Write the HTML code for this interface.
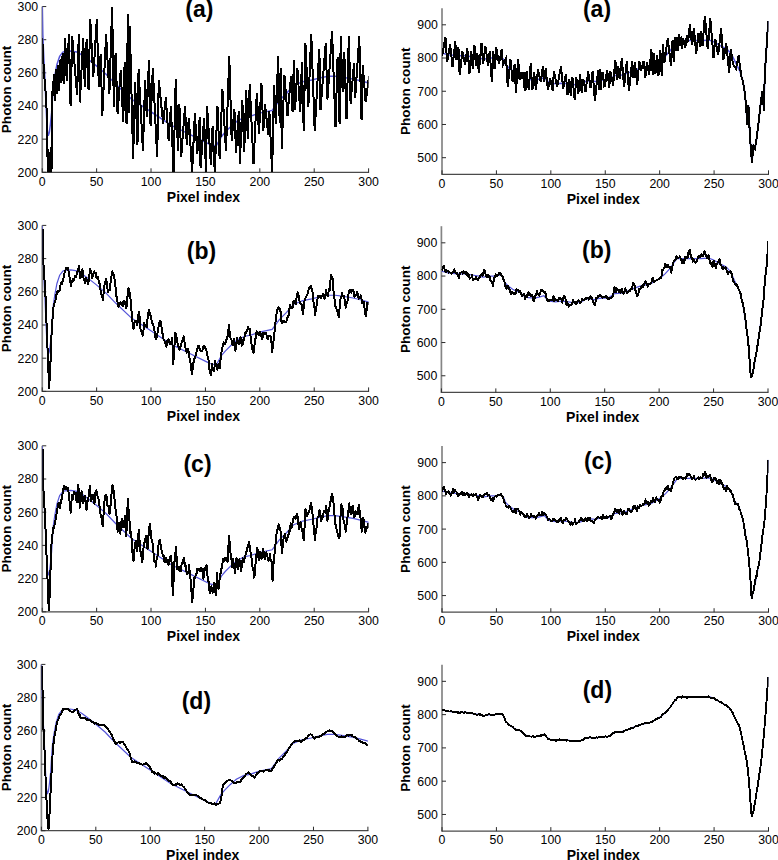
<!DOCTYPE html>
<html><head><meta charset="utf-8"><style>
html,body{margin:0;padding:0;background:#fff;overflow:hidden;}
svg{display:block;}
text{font-family:"Liberation Sans", sans-serif;fill:#000;}
</style></head><body>
<svg width="778" height="860" viewBox="0 0 778 860">
<rect width="778" height="860" fill="#fff"/>
<path d="M42.25 6.55V172.9" fill="none" stroke="#858585" stroke-width="1.7"/>
<path d="M42.05 172.3H369.1" fill="none" stroke="#4a4a4a" stroke-width="1.3"/>
<path d="M42.25 172.3v-4M96.64 172.3v-4M151.03 172.3v-4M205.43 172.3v-4M259.82 172.3v-4M314.21 172.3v-4M368.6 172.3v-4M42.25 172.3h4M42.25 139.15h4M42.25 106h4M42.25 72.85h4M42.25 39.7h4M42.25 6.55h4" stroke="#2b2b2b" stroke-width="1"/>
<g font-size="12.3"><text x="42.25" y="185.5" text-anchor="middle">0</text><text x="96.64" y="185.5" text-anchor="middle">50</text><text x="151.03" y="185.5" text-anchor="middle">100</text><text x="205.43" y="185.5" text-anchor="middle">150</text><text x="259.82" y="185.5" text-anchor="middle">200</text><text x="314.21" y="185.5" text-anchor="middle">250</text><text x="368.6" y="185.5" text-anchor="middle">300</text><text x="38.15" y="176.7" text-anchor="end">200</text><text x="38.15" y="143.55" text-anchor="end">220</text><text x="38.15" y="110.4" text-anchor="end">240</text><text x="38.15" y="77.25" text-anchor="end">260</text><text x="38.15" y="44.1" text-anchor="end">280</text><text x="38.15" y="10.95" text-anchor="end">300</text></g>
<text x="203.43" y="201.5" text-anchor="middle" font-weight="bold" font-size="14">Pixel index</text>
<text transform="translate(11.2,89.43) rotate(-90)" text-anchor="middle" font-weight="bold" font-size="13.6">Photon count</text>
<text x="199.3" y="17.1" text-anchor="middle" font-weight="bold" font-size="23">(a)</text>
<clipPath id="cLA"><rect x="42.25" y="6.55" width="326.35" height="165.75"/></clipPath>
<g clip-path="url(#cLA)">
<path d="M42.25 6.55 42.79 34.73 43.88 59.59 44.97 79.48 46.06 106 47.15 129.21 48.23 135.84 49.32 132.52 50.41 124.23 51.61 112.63 52.37 99.37 53.35 86.11 54.76 76.17 56.94 64.56 59.66 56.28 62.92 52.13 64.84 51.5 70.84 51 76.83 52 82.83 55.49 88.83 59.97 95.83 65.45 105.82 73.93 115.62 84.09 131.81 99.34 149.8 111 171.39 125.36 190.78 134.92 206.17 142.6 210.07 144.49 216.17 145.99 221.57 136.42 225.47 131.83 230.86 126.45 237.06 121.07 244.76 117.18 250.75 116.09 259.55 113.1 272.14 110.41 279.34 100.54 286.54 93.36 293.73 85.29 302.73 81.7 311.73 79.91 320.72 77.71 327.92 76.32 335.12 76.32 342.31 77.22 353.11 79.01 360.3 80.8 368.9 83.1" fill="none" stroke="#5454d8" stroke-width="1.5"/>
<path d="M42.25 38.04 43.01 56.28 43.88 69.54 44.64 81.14 45.51 91.08 46.38 101.03 46.93 129.21 47.47 154.07 47.91 188.88 48.34 149.1 48.78 197.16 49.21 152.41 49.65 192.19 50.08 155.73 50.52 197.16 50.95 147.44 51.39 188.88 51.82 122.58 52.26 106 52.69 81.14 53.45 96.06 54.22 74.51 54.87 101.03 55.85 69.54 56.94 94.4 57.91 64.56 58.89 91.08 59.87 59.59 60.74 82.8 61.61 56.28 62.48 81.14 63.25 52.96 64.01 84.45 65.13 37.69 66.71 81.24 68.94 33.81 70.59 106.3 72.23 36.05 77.15 95.38 78.79 34.41 79.88 102.48 83.16 37.69 84.79 87.19 86.61 38.99 88.53 89.65 90.26 19.12 93.27 77.31 96.81 19.12 98.85 87.41 100.62 53.84 102.27 116.14 106.1 34.41 109.38 93.74 112.11 6.56 113.89 107.05 115.57 52.56 117.57 113.95 120.69 70.41 123.28 122.15 124.61 62.32 126.56 123.79 127.87 14.2 129.14 112.89 129.83 26.22 133.11 158.75 135.11 81.91 137.48 145.09 138.57 69.38 142.94 150.55 145.13 80.3 146.77 116.68 148.95 59.54 150.56 125.96 152.78 67.74 157.15 157.11 158.79 80.3 163.16 123.79 165.85 97.36 168.62 140.72 170.9 105.79 173.53 172.4 175.72 79.21 177.9 150.55 179.36 103.94 181.18 157.11 185.01 106.3 186.78 145.09 188.83 117.78 192.11 172.4 194.88 113.52 197.3 154.03 199.76 116.68 200.55 168.03 204.13 117.78 205.93 171.88 207.1 106.3 210.93 165.3 212.59 126.32 214.75 172.4 217.48 106.3 219.67 159.29 222.4 89.37 225.98 151.32 229.28 56.27 231.68 140.72 234.41 109.04 236.05 153.28 238.79 110.67 239.88 164.21 242.35 100.38 244.25 151.64 246.28 90.4 247.76 139.25 249.71 84.13 253.53 164.21 256.81 92.65 259 133.62 261.43 83.35 263.37 130.89 265.01 104.12 268.28 135.26 269.38 111.22 272.11 172.4 274.11 85.04 275.81 124.34 278.12 56.27 279.68 122.85 280.85 68.28 281.74 149.21 284.41 74.77 287.52 115.66 290.99 76.35 292.57 111.97 293.88 59.58 295.04 110.45 297.35 67.68 300.25 112.19 301.9 61.85 303.72 131.27 305.45 43.38 308.35 106.9 311.24 33.55 314.71 131.27 319.33 48.59 320.49 110.45 325.7 43.38 327.43 99.46 332.06 31.24 335.53 127.23 337.57 57.29 339.58 124.33 340.74 36.44 342.66 92.06 344.29 52.22 346.52 119.13 348.83 36.44 350.57 103.51 354.04 63.05 355.2 97.73 359.25 36.44 361.56 120.28 362.72 64.78 365.61 102.35 369.08 76.35 368.6 87.28" fill="none" stroke="#000" stroke-width="2.0" stroke-linejoin="miter" shape-rendering="crispEdges"/>
</g>
<path d="M42.25 225.4V392" fill="none" stroke="#858585" stroke-width="1.7"/>
<path d="M42.05 391.4H369.1" fill="none" stroke="#4a4a4a" stroke-width="1.3"/>
<path d="M42.25 391.4v-4M96.64 391.4v-4M151.03 391.4v-4M205.43 391.4v-4M259.82 391.4v-4M314.21 391.4v-4M368.6 391.4v-4M42.25 391.4h4M42.25 358.2h4M42.25 325h4M42.25 291.8h4M42.25 258.6h4M42.25 225.4h4" stroke="#2b2b2b" stroke-width="1"/>
<g font-size="12.3"><text x="42.25" y="404.6" text-anchor="middle">0</text><text x="96.64" y="404.6" text-anchor="middle">50</text><text x="151.03" y="404.6" text-anchor="middle">100</text><text x="205.43" y="404.6" text-anchor="middle">150</text><text x="259.82" y="404.6" text-anchor="middle">200</text><text x="314.21" y="404.6" text-anchor="middle">250</text><text x="368.6" y="404.6" text-anchor="middle">300</text><text x="38.15" y="395.8" text-anchor="end">200</text><text x="38.15" y="362.6" text-anchor="end">220</text><text x="38.15" y="329.4" text-anchor="end">240</text><text x="38.15" y="296.2" text-anchor="end">260</text><text x="38.15" y="263" text-anchor="end">280</text><text x="38.15" y="229.8" text-anchor="end">300</text></g>
<text x="203.43" y="420.6" text-anchor="middle" font-weight="bold" font-size="14">Pixel index</text>
<text transform="translate(11.2,308.4) rotate(-90)" text-anchor="middle" font-weight="bold" font-size="13.6">Photon count</text>
<text x="201.5" y="258.9" text-anchor="middle" font-weight="bold" font-size="23">(b)</text>
<clipPath id="cLB"><rect x="42.25" y="225.4" width="326.35" height="166"/></clipPath>
<g clip-path="url(#cLB)">
<path d="M42.25 225.4 42.79 253.62 43.88 278.52 44.97 298.44 46.06 325 47.15 348.24 48.23 354.88 49.32 351.56 50.41 343.26 51.61 331.64 52.37 318.36 53.35 305.08 54.76 295.12 56.94 283.5 59.66 275.2 62.92 271.05 64.84 270.42 70.84 269.92 76.83 270.92 82.83 274.41 88.83 278.9 95.83 284.39 105.82 292.88 115.62 303.06 131.81 318.33 149.8 330.01 171.39 344.38 190.78 353.97 206.17 361.65 210.07 363.55 216.17 365.05 221.57 355.46 225.47 350.87 230.86 345.48 237.06 340.09 244.76 336.2 250.75 335.1 259.55 332.11 272.14 329.41 279.34 319.53 286.54 312.34 293.73 304.26 302.73 300.66 311.73 298.87 320.72 296.67 327.92 295.27 335.12 295.27 342.31 296.17 353.11 297.97 360.3 299.77 368.9 302.06" fill="none" stroke="#5454d8" stroke-width="1.2"/>
<path d="M42.62 228.74 43.28 259.34 43.34 261.98 44.43 278.35 45.46 296.49 45.51 296.42 46.6 325.62 47.65 351.12 47.69 353.87 48.78 378.61 49.18 388.27 49.86 373.9 50.49 362.05 50.95 348.68 52.02 322.71 52.04 324.1 53.13 312.54 53.55 306.32 54.22 303.71 55.3 301.95 55.3 301.29 56.39 294.99 57.48 290.82 57.48 292.12 58.57 291.17 59.66 290.31 59.67 289.93 60.74 283.29 61.83 283.82 61.85 283.37 62.92 280.15 64.01 276.27 64.04 274.63 65.09 271.34 66.18 268.01 66.22 268.08 67.27 268.27 67.97 267.64 68.36 270.04 69.45 276.12 69.5 276.82 70.53 282.53 71.03 286.65 71.62 282.61 72.71 279.03 72.78 279 73.8 280.57 74.88 276.39 74.97 277.26 75.97 276.92 77.06 272.87 77.15 272.45 78.15 270.41 78.9 265.45 79.24 268.2 80.32 278.1 80.43 277.91 81.41 275.66 82.5 269.39 82.61 273.54 83.59 277.99 84.68 281.7 84.8 283.37 85.76 281.69 86.33 277.91 86.85 280.25 87.94 283.07 88.08 284.47 89.03 277.94 90.11 269.71 90.26 269.17 91.2 272.51 92.29 278.01 92.45 277.26 93.38 273.37 94.2 271.35 94.47 273.16 95.55 272.54 96.38 277.26 96.64 278.04 97.73 276.92 97.91 277.91 98.82 281.15 99.44 283.37 99.91 285.01 100.99 293.88 101.19 294.3 102.08 295.76 102.94 299.76 103.17 297.78 104.26 285.83 104.47 285.56 105.34 281.44 106.22 279 106.43 280.26 107.52 288.74 108.18 292.12 108.61 290.56 109.7 289.6 109.93 289.93 110.78 280.5 111.87 273.93 112.12 271.35 112.96 272.73 114.05 275.51 114.3 276.82 115.13 283.95 116.22 293.84 116.49 296.49 117.31 300.88 118.23 306.32 118.4 306.79 119.49 305.16 120.42 301.95 120.57 302.78 121.66 303.65 122.6 306.32 122.75 303.8 123.84 300.62 124.13 300.86 124.93 302.23 126.01 306.4 126.32 308.51 127.1 300.16 128.19 290.51 128.51 287.74 129.28 291.35 130.36 296.54 130.69 300.86 131.45 310 132.22 318.34 132.54 321.93 133.53 329.27 133.63 326.11 134.72 322.17 135.06 320.52 135.8 320.72 136.89 323.02 137.25 324.9 137.98 320.12 138.78 311.78 139.07 311.46 140.16 323.21 140.52 329.27 141.24 331.19 142.33 333.68 142.71 335.82 143.42 330.34 144.46 322.71 144.51 323.98 145.59 325.13 146.64 327.08 146.68 326.29 147.77 317.15 148.83 310.69 148.86 309.85 149.95 314.33 151.03 316.24 151.45 319.43 152.12 322.79 153.21 324.53 153.64 327.08 154.3 329.24 155.38 337.08 155.82 339.1 156.47 338.55 157.56 332.48 158.01 329.27 158.65 326.15 159.74 321 159.76 321.62 160.82 321.85 161.28 324.9 161.91 330.3 163 336.04 163.47 339.1 164.09 339.78 165.18 343.57 165.66 344.56 166.26 346.8 167.35 340.95 167.84 341.28 168.44 339.11 169.53 342.48 170.03 344.56 170.61 344.02 171.7 340.08 172.21 338.01 172.79 351.6 173.3 364.23 173.88 352.61 174.97 339.32 175.49 332.54 176.05 335.57 177.14 339.77 177.24 342.38 178.23 345.96 179.32 347.18 179.42 350.03 180.4 347.5 181.49 343.41 181.61 342.38 182.58 339.48 183.67 336.37 183.79 338.01 184.76 342.91 185.84 349.91 185.98 351.12 186.93 352.59 188.02 350.02 188.16 348.93 189.11 355.4 190.2 361.83 190.35 362.05 191.28 368.6 191.88 374.06 192.37 371.31 193.46 362.75 194.06 359.86 194.55 358.3 195.63 355.59 196.25 353.3 196.72 351.49 197.81 347.27 198.44 345.66 198.9 345.67 199.99 350.17 200.62 351.12 201.07 350.97 202.16 351.39 202.81 348.93 203.25 346.37 203.93 347.84 204.34 346.11 205.43 348.82 206.12 348.93 206.51 351.14 207.6 356.5 208.3 357.67 208.69 361.29 209.78 372.12 209.83 372.97 210.86 372.14 210.93 375.16 211.95 364.58 212.02 364.23 213.04 369.64 213.55 370.79 214.13 371.14 215.22 360.58 215.3 362.05 216.3 365.57 217.05 368.6 217.39 369.75 218.48 364.27 218.58 364.23 219.57 368.49 220.1 367.51 220.65 357.73 221.74 350.67 221.85 351.12 222.83 345.47 223.6 342.38 223.92 342.35 225.01 344.05 226.09 340.47 226.22 340.19 227.18 338.66 227.97 333.64 228.27 330.46 229.06 324.9 229.36 330.24 230.45 337.93 230.59 338.01 231.53 339.91 232.34 344.56 232.62 341.39 233.71 341.25 233.87 339.1 234.8 348.4 235.4 351.12 235.88 346.33 236.97 338.21 237.15 338.01 238.06 342.73 238.9 344.56 239.15 344.24 240.24 338.8 240.43 336.91 241.32 343.61 241.96 345.66 242.41 345.14 243.5 339.18 243.71 340.19 244.59 336.63 245.67 331.56 245.89 333.64 246.76 331.14 247.85 327.94 248.08 327.08 248.94 329.46 249.83 329.27 250.03 331.15 251.11 342.06 251.35 342.38 252.2 348.97 253.29 351.13 253.54 353.3 254.38 345.41 255.07 342.38 255.47 338.79 256.55 331.34 256.82 331.45 257.64 332.66 258.57 334.73 258.73 335.33 259.82 331.94 260.1 331.45 260.9 334.98 261.84 338.01 261.99 338.95 263.08 335.84 263.37 332.54 264.17 334.51 265.26 332.55 265.56 332.54 266.34 334.7 267.43 338.79 267.74 339.1 268.52 335.75 269.49 335.82 269.61 335.75 270.69 336.76 271.02 338.01 271.78 346.27 272.12 352.21 272.87 346.5 273.21 342.38 273.96 338.56 274.74 329.27 275.05 325.57 276.13 317.96 276.49 313.97 277.22 310.02 278.31 308.05 278.67 307.41 279.4 307.89 280.42 311.78 280.49 311.24 281.57 322.79 281.95 322.71 282.66 321.04 283.75 321.8 284.13 320.52 284.84 321.88 285.92 322 286.32 321.62 287.01 318.87 288.1 315.99 288.51 316.15 289.19 309.93 290.03 305.23 290.28 307.73 291.36 307.67 291.78 307.41 292.45 308.06 293.53 300.86 293.54 301 294.63 301.16 295.72 304.05 295.72 303.04 296.8 296.68 297.68 292.12 297.89 292.84 298.98 297.25 299.43 300.86 300.07 302.9 301.15 304.54 301.62 304.13 302.24 309.17 303.15 313.97 303.33 310.04 304.42 301.4 304.9 298.67 305.51 297.92 306.59 295.82 307.08 295.39 307.68 293.14 308.77 289.21 309.27 287.74 309.86 287.28 310.94 286.09 311.01 285.56 312.03 291.59 312.54 292.12 313.12 298.74 313.64 303.04 314.21 305.34 315.17 315.06 315.3 313.45 316.38 306.6 316.91 303.04 317.47 299.42 318.01 295.39 318.56 295.66 319.65 295.95 319.76 296.49 320.74 298.04 321.28 297.58 321.82 296.16 322.81 294.3 322.91 294.22 324 298.26 324.56 298.67 325.09 296.73 326.09 289.93 326.17 291.56 327.26 295.73 327.84 296.49 328.35 292.76 329.37 288.84 329.44 291.42 330.53 279.81 331.12 274.63 331.61 276.86 332.65 279 332.7 280.53 333.79 294.08 333.96 296.49 334.88 300.89 335.49 306.32 335.96 307.41 337.05 310.41 337.67 311.78 338.14 314.93 338.77 317.25 339.23 312.48 340.3 300.86 340.32 299.56 341.4 296.54 342.05 293.21 342.49 295.4 343.58 297.19 344.23 296.49 344.67 300.69 345.76 307.86 345.98 307.41 346.84 302.25 347.51 300.86 347.93 297.67 349.02 291.46 349.04 291.02 350.11 289.75 350.79 292.12 351.19 292.58 352.28 289.62 352.97 289.93 353.37 290.11 354.46 296.63 354.72 295.39 355.55 296.22 356.63 293.75 356.91 292.12 357.72 293.97 358.65 298.67 358.81 296.69 359.9 298.23 360.62 295.39 360.99 295.82 362.07 303.16 362.15 303.04 363.16 302.93 363.9 301.95 364.25 305.53 365.34 314.06 365.65 316.15 366.42 311.9 367.18 303.04 367.51 304.13 368.6 303.67 368.71 301.95" fill="none" stroke="#000" stroke-width="2.0" stroke-linejoin="round" shape-rendering="crispEdges"/>
</g>
<path d="M42.25 445.8V612.4" fill="none" stroke="#858585" stroke-width="1.7"/>
<path d="M42.05 611.8H369.1" fill="none" stroke="#4a4a4a" stroke-width="1.3"/>
<path d="M42.25 611.8v-4M96.64 611.8v-4M151.03 611.8v-4M205.43 611.8v-4M259.82 611.8v-4M314.21 611.8v-4M368.6 611.8v-4M42.25 611.8h4M42.25 578.6h4M42.25 545.4h4M42.25 512.2h4M42.25 479h4M42.25 445.8h4" stroke="#2b2b2b" stroke-width="1"/>
<g font-size="12.3"><text x="42.25" y="625" text-anchor="middle">0</text><text x="96.64" y="625" text-anchor="middle">50</text><text x="151.03" y="625" text-anchor="middle">100</text><text x="205.43" y="625" text-anchor="middle">150</text><text x="259.82" y="625" text-anchor="middle">200</text><text x="314.21" y="625" text-anchor="middle">250</text><text x="368.6" y="625" text-anchor="middle">300</text><text x="38.15" y="616.2" text-anchor="end">200</text><text x="38.15" y="583" text-anchor="end">220</text><text x="38.15" y="549.8" text-anchor="end">240</text><text x="38.15" y="516.6" text-anchor="end">260</text><text x="38.15" y="483.4" text-anchor="end">280</text><text x="38.15" y="450.2" text-anchor="end">300</text></g>
<text x="203.43" y="641" text-anchor="middle" font-weight="bold" font-size="14">Pixel index</text>
<text transform="translate(11.2,528.8) rotate(-90)" text-anchor="middle" font-weight="bold" font-size="13.6">Photon count</text>
<text x="197.5" y="471.7" text-anchor="middle" font-weight="bold" font-size="23">(c)</text>
<clipPath id="cLC"><rect x="42.25" y="445.8" width="326.35" height="166"/></clipPath>
<g clip-path="url(#cLC)">
<path d="M42.25 445.8 42.79 474.02 43.88 498.92 44.97 518.84 46.06 545.4 47.15 568.64 48.23 575.28 49.32 571.96 50.41 563.66 51.61 552.04 52.37 538.76 53.35 525.48 54.76 515.52 56.94 503.9 59.66 495.6 62.92 491.45 64.84 490.82 70.84 490.32 76.83 491.32 82.83 494.81 88.83 499.3 95.83 504.79 105.82 513.28 115.62 523.46 131.81 538.73 149.8 550.41 171.39 564.78 190.78 574.37 206.17 582.05 210.07 583.95 216.17 585.45 221.57 575.86 225.47 571.27 230.86 565.88 237.06 560.49 244.76 556.6 250.75 555.5 259.55 552.51 272.14 549.81 279.34 539.93 286.54 532.74 293.73 524.66 302.73 521.06 311.73 519.27 320.72 517.07 327.92 515.67 335.12 515.67 342.31 516.57 353.11 518.37 360.3 520.17 368.9 522.46" fill="none" stroke="#5454d8" stroke-width="1.2"/>
<path d="M42.62 448.74 43.28 483.71 43.34 487.78 44.43 506.2 45.46 527.41 45.51 529.22 46.6 556.82 47.65 582.05 47.69 581.17 48.74 610.45 48.78 609.75 49.83 592.97 49.86 592.55 50.95 554.22 51.36 544.9 52.04 539.11 53.11 527.41 53.13 529.89 54.22 527.39 54.86 523.04 55.3 521.87 56.39 514.07 57.05 512.12 57.48 508.56 58.57 503.32 58.58 505.56 59.66 503.41 60.1 507.74 60.74 501.12 61.83 497.78 61.85 499 62.92 490.43 64.01 485.79 64.04 486.98 65.09 489.36 65.79 489.17 66.18 487.24 67.27 488.22 67.97 488.08 68.36 491.71 69.45 496.6 69.5 501.19 70.53 510.89 70.59 513.21 71.62 499.53 71.91 494.63 72.71 497.36 73.22 499 73.8 492.02 74.88 493.14 74.97 492.45 75.97 496.53 76.71 502.28 77.06 496.95 78.15 484.74 78.24 484.8 79.24 498.4 79.77 507.74 80.32 503.44 81.41 493.2 81.52 491.35 82.5 499.26 83.05 503.37 83.59 501.97 84.68 495.54 84.8 496.82 85.76 501.86 86.33 509.93 86.85 508.35 87.94 498.65 88.08 499 89.03 493.75 89.83 485.89 90.11 490.07 91.2 500.04 91.35 501.19 92.29 496.85 92.88 494.63 93.38 496.64 94.47 503.74 94.63 499 95.55 491.49 96.38 490.26 96.64 491.82 97.73 497.21 97.91 496.82 98.82 500.51 99.44 505.56 99.91 509.27 100.99 517.06 101.19 515.39 102.08 520.66 102.72 526.32 103.17 518.89 104.26 505.77 104.47 501.19 105.34 496.09 106.22 494.63 106.43 495.32 107.52 506.13 107.74 505.56 108.61 506.23 109.49 514.3 109.7 511.62 110.78 503.58 111.02 499 111.87 490.1 112.55 484.8 112.96 487.23 114.05 493 114.3 496.82 115.13 506.73 116.05 512.12 116.22 512.14 117.31 526.32 117.58 531.78 118.4 525.59 119.11 523.04 119.49 524.85 120.42 533.97 120.57 529.66 121.66 519.99 121.95 518.67 122.75 522.88 123.48 527.41 123.84 526.75 124.93 516.02 125.23 516.49 126.01 528.54 126.32 536.15 127.1 516.48 127.85 499 128.19 503.68 129.16 518.67 129.28 518.1 130.36 533.96 130.69 531.78 131.45 537.57 132.22 544.9 132.54 553.84 133.53 561.28 133.63 559.67 134.72 546.46 135.28 542.71 135.8 541.11 136.89 550.72 137.25 551.45 137.98 540.01 138.78 529.6 139.07 533.28 140.16 551.22 140.52 551.45 141.24 554.37 142.27 562.38 142.33 561.66 143.42 549.25 144.02 542.71 144.51 542.9 145.59 537.45 145.99 536.15 146.68 541.84 147.52 549.27 147.77 543.43 148.86 531.82 149.27 527.41 149.95 523.67 151.01 536.15 151.03 536.97 152.12 541.34 152.54 542.71 153.21 549.85 154.07 559.1 154.3 561.62 155.38 561.69 155.82 566.75 156.47 560.47 157.56 556.18 157.57 553.64 158.65 544.08 159.1 540.52 159.74 539.92 160.63 544.9 160.82 548.64 161.91 550.91 162.38 553.64 163 556.51 164.09 555.67 164.56 562.38 165.18 559.91 166.26 558.86 166.31 558.01 167.35 562.17 168.44 560.48 168.5 564.56 169.53 561.73 170.03 559.1 170.61 555.65 171.56 562.38 171.7 569.09 172.79 593.52 172.87 595.16 173.88 573.89 174.4 562.38 174.97 558.02 175.93 547.08 176.05 549.53 177.14 565.84 177.24 568.93 178.23 568.77 178.77 566.75 179.32 570.65 180.4 567.21 180.95 571.12 181.49 564.97 182.48 562.38 182.58 563.43 183.67 558.7 184.23 558.01 184.76 566.39 185.84 565.89 185.98 568.93 186.93 574.25 187.51 573.3 188.02 572.87 189.04 568.93 189.11 564.9 190.2 578.62 190.79 579.86 191.28 588 192.1 601.71 192.37 600.44 193.46 588.72 194.06 577.67 194.55 579.25 195.59 575.49 195.63 574.7 196.72 573.8 197.34 568.93 197.81 570.5 198.9 568.93 199.53 571.12 199.99 570.49 201.07 570.77 201.28 567.84 202.16 569.15 203.25 577.37 203.46 578.77 204.34 568.73 204.81 567.84 205.43 570.25 206.51 565.41 206.56 568.93 207.6 576.79 208.3 577.67 208.69 584.95 209.78 593.16 209.83 592.97 210.86 589.22 211.36 586.42 211.95 588.74 212.67 592.97 213.04 591.93 214.13 583.3 214.2 584.23 215.22 588.66 215.73 595.16 216.3 586.9 217.05 573.3 217.39 579.45 218.48 588.36 218.58 588.6 219.57 579.77 220.1 577.67 220.65 572.27 221.42 568.93 221.74 567.44 222.83 561.74 222.95 559.1 223.92 560.43 224.48 561.28 225.01 558.25 226.09 559.6 226.22 558.01 227.18 558.49 227.53 562.38 228.27 549.24 229.06 536.15 229.36 538.82 230.45 553.11 230.59 553.64 231.53 560.18 231.91 566.75 232.62 562.4 233.22 559.1 233.71 566.01 234.8 570.19 234.97 573.3 235.88 564.87 236.49 558.01 236.97 559.15 238.02 568.93 238.06 568.24 239.15 561.68 239.34 559.1 240.24 564.85 241.08 571.12 241.32 569.97 242.41 561.32 242.61 558.01 243.5 560.41 244.14 562.38 244.59 558.39 245.67 554.49 245.89 553.64 246.76 550.46 247.64 547.08 247.85 547.51 248.94 542.13 249.17 542.71 250.03 548.19 250.7 553.64 251.11 554.72 252.2 564.08 252.45 566.75 253.29 568.38 253.98 577.67 254.38 577.26 255.47 564.67 255.73 562.38 256.55 553.53 257.26 548.17 257.64 549.17 258.57 558.01 258.73 560.32 259.82 555.03 260.1 551.45 260.9 555.49 261.63 559.1 261.99 554.83 263.08 548.62 263.37 549.27 264.17 556.71 265.12 559.1 265.26 558.27 266.34 552.29 266.65 553.64 267.43 556.83 268.18 560.19 268.52 560.92 269.61 556.21 269.93 553.64 270.69 560.07 271.68 562.38 271.78 562.11 272.55 580.95 272.87 575.82 273.86 558.01 273.96 557.97 275.05 549.55 275.39 544.9 276.13 537.68 276.92 529.6 277.22 530.41 278.31 527.15 278.67 524.13 279.4 526.4 280.42 529.6 280.49 531.01 281.57 546.72 281.95 553.64 282.66 546.14 283.04 542.71 283.75 536.71 284.79 533.97 284.84 534.21 285.92 539.03 286.32 541.62 287.01 538.6 287.85 536.15 288.1 537.07 289.19 530.33 289.6 531.78 290.28 527.41 290.69 523.04 291.36 528.07 292.22 527.41 292.45 523.37 293.54 517.77 293.97 516.49 294.63 518.36 295.72 516.66 295.72 518.67 296.8 513.54 297.25 514.3 297.89 518.32 298.78 527.41 298.98 529.06 300.07 522.94 300.52 521.95 301.15 526.71 302.24 530.61 302.27 529.6 303.33 538.2 303.8 540.52 304.42 529.84 305.33 509.93 305.51 509.51 306.59 516.17 307.08 516.49 307.68 513.65 308.77 511.84 308.83 512.12 309.86 509.14 310.94 503.23 311.01 503.37 312.03 509.18 312.54 514.3 313.12 518.84 313.64 527.41 314.21 532.75 315.17 540.52 315.3 535.81 316.38 528.63 316.91 525.23 317.47 518.18 318.01 516.49 318.56 516.75 319.54 509.93 319.65 512.77 320.74 515.98 321.07 520.86 321.82 519.33 322.81 516.49 322.91 515.23 324 511.03 324.56 512.12 325.09 512.69 326.09 505.56 326.17 505.52 327.26 515.23 327.4 520.86 328.35 512.41 328.93 509.93 329.44 507.14 330.53 500.75 330.68 501.19 331.61 495.65 331.99 493.54 332.7 496.46 333.52 503.37 333.79 504.1 334.88 521.16 335.05 523.04 335.96 525.71 336.58 529.6 337.05 530.92 338.11 536.15 338.14 534.62 339.23 536.25 339.42 538.34 340.32 521.27 340.95 505.56 341.4 504.43 342.48 509.93 342.49 508.19 343.58 520.28 344.23 523.04 344.67 525.17 345.76 531.61 345.98 529.6 346.84 522.69 347.51 516.49 347.93 512.58 349.02 507.4 349.26 503.37 350.11 510.92 350.79 514.3 351.19 513.94 352.28 508.14 352.53 505.56 353.37 513 354.06 516.49 354.46 517.43 355.55 511.03 355.59 512.12 356.63 513.77 357.34 514.3 357.72 513.98 358.81 504.9 359.09 505.56 359.9 513.53 360.62 518.67 360.99 521.17 361.71 531.78 362.07 531.49 363.16 518.02 363.46 518.67 364.25 526.24 364.99 531.78 365.34 532.62 366.42 526.79 366.52 527.41 367.51 527.54 368.27 523.04" fill="none" stroke="#000" stroke-width="2.0" stroke-linejoin="round" shape-rendering="crispEdges"/>
</g>
<path d="M41.4 664.4V831.3" fill="none" stroke="#858585" stroke-width="1.7"/>
<path d="M41.2 830.7H368.4" fill="none" stroke="#4a4a4a" stroke-width="1.3"/>
<path d="M41.4 830.7v-4M95.82 830.7v-4M150.23 830.7v-4M204.65 830.7v-4M259.07 830.7v-4M313.48 830.7v-4M367.9 830.7v-4M41.4 830.7h4M41.4 797.44h4M41.4 764.18h4M41.4 730.92h4M41.4 697.66h4M41.4 664.4h4" stroke="#2b2b2b" stroke-width="1"/>
<g font-size="12.3"><text x="41.4" y="843.9" text-anchor="middle">0</text><text x="95.82" y="843.9" text-anchor="middle">50</text><text x="150.23" y="843.9" text-anchor="middle">100</text><text x="204.65" y="843.9" text-anchor="middle">150</text><text x="259.07" y="843.9" text-anchor="middle">200</text><text x="313.48" y="843.9" text-anchor="middle">250</text><text x="367.9" y="843.9" text-anchor="middle">300</text><text x="37.3" y="835.1" text-anchor="end">200</text><text x="37.3" y="801.84" text-anchor="end">220</text><text x="37.3" y="768.58" text-anchor="end">240</text><text x="37.3" y="735.32" text-anchor="end">260</text><text x="37.3" y="702.06" text-anchor="end">280</text><text x="37.3" y="668.8" text-anchor="end">300</text></g>
<text x="202.65" y="859.9" text-anchor="middle" font-weight="bold" font-size="14">Pixel index</text>
<text transform="translate(11.2,747.55) rotate(-90)" text-anchor="middle" font-weight="bold" font-size="13.6">Photon count</text>
<text x="196.4" y="709.1" text-anchor="middle" font-weight="bold" font-size="23">(d)</text>
<clipPath id="cLD"><rect x="41.4" y="664.4" width="326.5" height="166.3"/></clipPath>
<g clip-path="url(#cLD)">
<path d="M41.4 664.4 41.94 692.67 43.03 717.62 44.12 737.57 45.21 764.18 46.3 787.46 47.39 794.11 48.47 790.79 49.56 782.47 50.76 770.83 51.52 757.53 52.5 744.22 53.92 734.25 56.09 722.61 58.81 714.29 62.08 710.13 64 709.5 70 709 76 710 82 713.5 88 718 95 723.5 105 732 114.8 742.2 131 757.5 149 769.2 170.6 783.6 190 793.2 205.4 800.9 209.3 802.8 215.4 804.3 220.8 794.7 224.7 790.1 230.1 784.7 236.3 779.3 244 775.4 250 774.3 258.8 771.3 271.4 768.6 278.6 758.7 285.8 751.5 293 743.4 302 739.8 311 738 320 735.8 327.2 734.4 334.4 734.4 341.6 735.3 352.4 737.1 359.6 738.9 368.2 741.2" fill="none" stroke="#5454d8" stroke-width="1.2"/>
<path d="M41.6 666 42.2 675 42.49 689.35 42.6 695 43.1 718 43.58 731.63 43.8 738 44.66 752.73 44.8 755 45.75 783.84 45.8 785 46.84 806.51 46.9 807.8 47.9 826.6 47.93 826.73 48.5 829 49 826.6 49.02 825.7 50 802.6 50.11 801 51.1 781.6 51.2 778.66 52.1 762 52.28 760.14 52.9 748 53.37 744.65 54.46 736.62 54.7 735.3 55.55 730.34 56.64 724.1 56.8 722.8 57.72 720.73 58.81 717.93 59.9 715.23 60.5 714.4 60.99 714.08 62.08 711.16 63.1 709.2 63.17 709.47 64.25 708.58 65.34 709.08 66.3 708.7 66.43 708.72 67.52 708.91 68.5 709.9 68.61 710.1 69.7 710.4 70.78 711.38 71.87 711.7 72.6 711.9 72.96 712.49 74.05 711.18 75.14 710.19 76.23 709.43 76.6 708.8 77.31 709.32 78.4 713.38 79.49 715.49 79.7 714.9 80.58 717.57 80.7 718 81.67 717.77 82.76 717.97 83.8 718 83.84 717.55 84.93 717.51 86.02 718.98 86.8 719 87.11 719.77 88.2 719.82 89.29 719.79 90.38 720.67 91.46 721.49 92.55 721.83 92.9 722.1 93.64 722.3 94.73 723.58 95 722.9 95.82 723.08 96.91 724.07 97.99 724.26 99.08 724.82 100.17 725.01 100.4 725.1 101.26 724.81 102.35 725.4 103.44 725.34 104.52 725.11 104.9 725.5 105.61 726.18 106.7 727.96 107.6 728.7 107.79 728.67 108.88 730.83 109.97 732.4 111.05 733.82 111.2 734.1 112.14 735.55 113.23 738.97 114.32 741.16 115.41 743.32 115.7 744 116.5 743.87 117.58 742.73 118.4 742.2 118.67 741.66 119.76 742.85 120.85 741.95 121.94 742.15 122 741.8 123.03 742.13 124.11 744 124.7 744.9 125.2 745.47 126.29 747.53 127.38 749.66 128.47 750.93 129.2 752.1 129.56 753.28 130.64 757.41 131.73 760.64 131.9 762 132.82 761.39 133.91 761.75 134.6 761.1 135 761.5 136.09 761.76 137.17 762.96 138.26 763.08 139.1 763.4 139.35 763.79 140.44 763.84 141.53 764.25 142.62 764.97 142.7 764.7 143.7 763.82 144.79 764.22 145.88 763.29 146.3 763.4 146.97 764.42 148.06 765.27 149 765.6 149.15 766.15 150.23 767.96 151.32 769.34 152.41 772.24 152.6 771.9 153.5 771.75 154.59 773.64 155.68 773.13 156.76 774.34 157.1 774.6 157.85 773.59 158 773.1 158.94 773.63 160.03 775.19 161.12 775.98 161.6 776.4 162.21 776.7 163.29 776.03 164.38 778.24 165.47 777.53 166.56 779.02 167 779.1 167.65 779.92 168.73 780.64 169.82 780.7 170.6 781.8 170.91 782.33 172 784.03 173.09 784.88 173.3 785.4 174.18 785.02 175.27 784.31 176.35 784.9 177.44 783.41 177.8 783.9 178.53 783.53 179.62 784.54 180.71 784.56 181.4 784.5 181.8 784.8 182.88 786.41 183.97 787.27 185.06 788.67 185.9 789.9 186.15 790.23 187.24 791.99 188.33 793.64 189.41 793.92 190 794.7 190.5 795.38 191.59 794.57 192.68 794.52 193.77 795.45 193.9 795.5 194.86 795.26 195.94 795.21 197.03 795.51 197.7 795.9 198.12 796.71 199.21 797.41 200.3 797.95 201.39 798.45 201.6 798.6 202.47 799.48 203.56 799.64 204.65 799.77 205.74 801.1 206.83 801.53 207 801.6 207.91 802.54 209 802.73 210.09 802.85 211.18 803.24 211.6 804 212.27 803.98 213.36 804.49 214.44 803.37 215.53 805.18 216.2 804.3 216.62 804.39 217.71 804.19 218.8 803.51 219.7 803.2 219.89 802.41 220.97 799.51 221.2 798.6 222 792.4 222.06 790.52 223.15 784.82 223.2 785.4 224.24 783.74 225.33 782.94 226.2 781.6 226.42 782.2 227.5 780.61 228.59 780.32 229.3 780.4 229.68 780.37 230.77 780.37 231.86 781.21 232.4 781.6 232.95 782.39 234.03 782.9 235.12 782.56 236.21 782.64 236.3 782.7 237.3 782.17 238.39 782 239.48 781.89 240.1 781.6 240.56 781.39 241.65 779.43 242.74 777.99 243.2 777.7 243.83 777.13 244.92 775.82 246.01 774.1 246.3 773.5 247.09 773.55 248.18 772.45 248.6 772.3 249.27 773.68 250.36 774.37 250.7 774.9 251.45 775.86 252.54 776.1 253.62 776.08 254.3 777.6 254.71 777.57 255.8 775.58 256.89 773.14 257 774 257.98 772.79 259.07 772.16 260.15 771.08 260.6 770.9 261.24 770.94 262.33 771.26 263.42 771.59 264.51 770.6 265.6 770.37 266 770 266.69 769.64 267.77 770.14 268.86 771.09 269.95 770.35 271.04 771.23 271.4 770.7 272.13 769.07 273.21 768.32 274.3 765.77 275 765 275.39 764.33 276.48 762.78 277.57 760.28 277.7 760.5 278.66 760.29 279.75 760.87 280.83 759.23 281.3 759.2 281.92 758.95 283.01 757.47 284.1 755.95 284.9 755.1 285.19 754.3 286.27 752.59 287.36 751.16 288.45 749.06 289.4 747 289.54 747.37 290.63 745.68 291.72 744.55 292.81 742.62 293.89 741.95 293.9 741.6 294.98 741.01 296.07 740.42 297.16 740.78 298.25 740.85 298.4 740.7 299.33 740.46 300.42 741.63 301.51 741.55 302 741.6 302.6 740.54 303.69 739.94 304.78 739.32 305.6 738.5 305.86 738.46 306.95 737.73 308.04 736.04 309.13 735 310.22 734.39 311 734.4 311.31 734.72 312.39 735.69 313.48 737.29 314.57 738.49 314.6 738 315.66 737.4 316.75 737.03 317.84 737.52 318.92 737.13 320 736.2 320.01 736.08 321.1 736.09 322.19 734.3 323.28 733.53 324.37 733.81 325.4 732.6 325.45 732.75 326.54 731.67 327.63 731.11 328.72 731.03 329.81 730.54 329.9 730.4 330.9 731.06 331.98 731.24 333.07 731.77 333.5 732.2 334.16 733.07 335.25 734.41 336.34 735.44 337.1 736.2 337.43 736.36 338.51 736.56 339.6 737.03 340.69 736.53 341.6 736.6 341.78 736.32 342.87 736.78 343.96 736.44 345.04 736.96 345.2 737.1 346.13 736.03 347.22 735.05 347.9 734.8 348.31 735.77 349.4 734.7 350.49 734.66 351.57 735.76 352.4 735.3 352.66 736.32 353.75 736.64 354.84 737.05 355.93 737.45 356 737.6 357.02 739.23 358.1 739.61 359.19 741 360.28 741.36 360.5 741.6 361.37 742.06 362.46 742.35 363.55 743.11 364.63 743.51 365 743.4 365.72 743.57 366.81 745.2 367.9 745.46 368.2 745.6" fill="none" stroke="#000" stroke-width="2.0" stroke-linejoin="round" shape-rendering="crispEdges"/>
</g>
<path d="M442 8.2V174.9" fill="none" stroke="#858585" stroke-width="1.7"/>
<path d="M441.8 174.3H769" fill="none" stroke="#4a4a4a" stroke-width="1.3"/>
<path d="M442 174.3v-4M496.42 174.3v-4M550.83 174.3v-4M605.25 174.3v-4M659.67 174.3v-4M714.08 174.3v-4M768.5 174.3v-4M442 157.69h4M442 124.47h4M442 91.25h4M442 58.03h4M442 24.81h4" stroke="#2b2b2b" stroke-width="1"/>
<g font-size="12.3"><text x="442" y="187.5" text-anchor="middle">0</text><text x="496.42" y="187.5" text-anchor="middle">50</text><text x="550.83" y="187.5" text-anchor="middle">100</text><text x="605.25" y="187.5" text-anchor="middle">150</text><text x="659.67" y="187.5" text-anchor="middle">200</text><text x="714.08" y="187.5" text-anchor="middle">250</text><text x="768.5" y="187.5" text-anchor="middle">300</text><text x="437.9" y="162.09" text-anchor="end">500</text><text x="437.9" y="128.87" text-anchor="end">600</text><text x="437.9" y="95.65" text-anchor="end">700</text><text x="437.9" y="62.43" text-anchor="end">800</text><text x="437.9" y="29.21" text-anchor="end">900</text></g>
<text x="603.25" y="203.5" text-anchor="middle" font-weight="bold" font-size="14">Pixel index</text>
<text transform="translate(410.4,91.25) rotate(-90)" text-anchor="middle" font-weight="bold" font-size="13.6">Photon count</text>
<text x="597" y="17.1" text-anchor="middle" font-weight="bold" font-size="23">(a)</text>
<clipPath id="cRA"><rect x="442" y="8.2" width="326.5" height="166.1"/></clipPath>
<g clip-path="url(#cRA)">
<path d="M442.19 53.24 448.74 54.77 457.48 55.86 466.22 55.86 472.78 56.95 479.34 58.04 483.71 59.13 490.26 58.04 494.63 58.04 501.19 56.95 503.37 59.13 505.56 64.59 508.84 67.86 513.21 71.13 516.49 72.88 520.86 74.4 524.13 77.68 527.41 79.42 531.78 79.86 536.15 79.86 540.52 78.77 544.46 77.68 547.08 80.95 550.36 83.13 555.82 83.78 562.38 83.13 568.93 83.78 573.3 84.66 579.86 84.22 583.14 83.13 586.42 80.95 590.79 80.95 595.16 81.6 599.53 80.29 608.74 79.86 612.02 77.68 615.3 75.49 621.85 75.06 628.41 72.88 634.97 70.04 641.52 67.86 645.89 66.77 651.35 65.68 656.82 62.41 661.19 59.79 665.56 55.86 669.93 51.06 674.3 44.95 677.58 40.59 683.04 40.59 691.78 40.59 700.52 40.59 709.27 40.16 713.64 41.68 720.19 45.61 726.75 48.88 731.12 53.68 735.49 62.41 739.86 71.13 742.85 80.82 744.36 89.89 745.87 103.49 747.38 124.66 748.44 105 749.35 124.66 750.41 142.8 751.92 162.45 753.43 145.82 754.94 148.84 756.46 139.77 758.72 121.63 760.99 100.47 762.5 91.4 764.01 111.05 764.47 85.35 765.53 62.68 767.04 40 768.2 21" fill="none" stroke="#5454d8" stroke-width="1.5"/>
<path d="M442 53.24 442.19 56.05 445.46 36.93 447.1 62.06 450.13 44.17 452.56 66.98 455.3 41.3 456.46 60.09 458.43 46.66 459.67 75.17 462.4 51.14 465.13 64.79 467.31 48.41 469.5 73.53 471.25 50.68 472.78 69.16 474.41 45.13 475.94 65.71 477.38 52.82 478.79 72.99 481.52 42.94 483.16 64.25 485.34 45.67 488.07 65.89 489.71 51.14 491.9 82.27 493.31 51.39 494.95 69.11 496.27 47.31 499 64.25 501.73 48.95 502.82 64.79 506.1 58.24 507.74 86.64 510.47 59.33 512.65 82.27 514.59 64.09 515.93 93.2 518.12 58.79 519.57 79.67 521.09 72.31 521.76 79.23 523.03 72.44 524.13 87.74 524.77 71.92 525.46 90.89 526.56 71.22 528.74 89.79 530.71 63.57 532.34 90.21 534.15 71.97 535.84 89.79 538.03 69.58 540.76 82.15 542.94 66.3 544.14 81.66 545.67 68.49 547.86 89.79 550.2 78.29 552.78 90.89 553.87 71.22 557.15 87.06 560.97 66.3 563.16 88.7 565.89 73.95 567.53 94.8 569.28 78.78 570.8 96.35 572.44 77.23 574.63 99.63 576.27 77.23 578.34 93.97 580.06 73.69 581.73 93.07 583.37 78.87 585.55 91.98 588.18 71.35 590.47 88.16 592.65 71.22 594.84 100.72 598.12 70.13 599.21 89.79 599.78 69.26 600.55 90.3 602.19 72.82 603.03 72.86 604.13 86.52 604.92 86.48 607.1 70.09 609.29 87.57 610.38 71.18 613.11 85.39 615.3 59.71 617.05 80.3 618.37 66.25 619.67 79.38 621.85 58.07 624.04 87.02 626.77 61.35 628.95 91.39 632.23 60.8 633.57 78.31 634.96 62.44 637.15 84.84 639.33 61.35 640.97 71.18 643.7 60.8 645.33 77.51 646.98 61.9 649.16 75.01 651.35 49.33 652.72 74.77 654.08 53.16 655.44 73.52 657.26 54.99 658.45 76.1 660.13 49.85 661.73 75.55 662.82 44.41 664.46 62.44 667.74 38.41 671.01 66.27 672.53 40.09 673.75 62.44 675.48 37.25 677.57 50.97 678.66 34.58 679.75 45.55 680.58 36.61 681.94 48.79 683.03 38.41 685.21 48.18 686.92 34.88 688.1 42.39 689.83 24.46 692.15 45.28 693.88 27.93 696.2 53.96 698.51 33.14 699.94 46.62 700.82 31.4 702.56 45.86 704.87 15.78 707.76 49.33 710.31 18.1 713.55 58.01 715.28 38.92 718.18 55.12 721.07 28.51 723.38 59.75 726.27 43.55 729.17 73.05 730.76 49.07 733.02 64.19 736.05 68.72 738.77 55.12 739.83 65.7 741.34 76.28 742.85 80.82 744.36 89.89 745.87 103.49 747.38 124.66 748.44 105 749.35 124.66 750.41 142.8 751.92 162.45 753.43 145.82 754.94 148.84 756.46 139.77 758.72 121.63 760.99 100.47 762.5 91.4 764.01 111.05 764.47 85.35 765.53 62.68 767.04 40 768.2 21" fill="none" stroke="#000" stroke-width="2.0" stroke-linejoin="miter" shape-rendering="crispEdges"/>
</g>
<path d="M441.4 226.2V393" fill="none" stroke="#858585" stroke-width="1.7"/>
<path d="M441.2 392.4H768.5" fill="none" stroke="#4a4a4a" stroke-width="1.3"/>
<path d="M441.4 392.4v-4M495.83 392.4v-4M550.27 392.4v-4M604.7 392.4v-4M659.13 392.4v-4M713.57 392.4v-4M768 392.4v-4M441.4 375.78h4M441.4 342.54h4M441.4 309.3h4M441.4 276.06h4M441.4 242.82h4" stroke="#2b2b2b" stroke-width="1"/>
<g font-size="12.3"><text x="441.4" y="405.6" text-anchor="middle">0</text><text x="495.83" y="405.6" text-anchor="middle">50</text><text x="550.27" y="405.6" text-anchor="middle">100</text><text x="604.7" y="405.6" text-anchor="middle">150</text><text x="659.13" y="405.6" text-anchor="middle">200</text><text x="713.57" y="405.6" text-anchor="middle">250</text><text x="768" y="405.6" text-anchor="middle">300</text><text x="437.3" y="380.18" text-anchor="end">500</text><text x="437.3" y="346.94" text-anchor="end">600</text><text x="437.3" y="313.7" text-anchor="end">700</text><text x="437.3" y="280.46" text-anchor="end">800</text><text x="437.3" y="247.22" text-anchor="end">900</text></g>
<text x="602.7" y="421.6" text-anchor="middle" font-weight="bold" font-size="14">Pixel index</text>
<text transform="translate(410.4,309.3) rotate(-90)" text-anchor="middle" font-weight="bold" font-size="13.6">Photon count</text>
<text x="596.8" y="258" text-anchor="middle" font-weight="bold" font-size="23">(b)</text>
<clipPath id="cRB"><rect x="441.4" y="226.2" width="326.6" height="166.2"/></clipPath>
<g clip-path="url(#cRB)">
<path d="M441.59 271.27 448.14 272.8 456.89 273.89 465.63 273.89 472.19 274.98 478.75 276.07 483.12 277.16 489.68 276.07 494.05 276.07 500.61 274.98 502.79 277.16 504.98 282.62 508.26 285.89 512.63 289.17 515.91 290.92 520.28 292.44 523.56 295.72 526.84 297.46 531.21 297.9 535.58 297.9 539.95 296.81 543.89 295.72 546.51 298.99 549.79 301.17 555.26 301.83 561.81 301.17 568.37 301.83 572.74 302.7 579.3 302.27 582.58 301.17 585.86 298.99 590.23 298.99 594.6 299.65 598.98 298.34 608.19 297.9 611.47 295.72 614.75 293.53 621.31 293.1 627.87 290.92 634.42 288.08 640.98 285.89 645.35 284.8 650.82 283.71 656.28 280.44 660.66 277.82 665.03 273.89 669.4 269.09 673.77 262.98 677.05 258.61 682.52 258.61 691.26 258.61 700 258.61 708.75 258.17 713.12 259.7 719.68 263.63 726.24 266.91 730.61 271.71 736.28 284.42 739.53 290.93 742.79 303.95 746.05 325.11 748.49 344.65 750.93 377.21 753.37 370.7 756.63 351.16 759.88 328.37 762 313.72 763.63 299.07 765.25 276.28 767.21 260 768.1 241" fill="none" stroke="#5454d8" stroke-width="1.2"/>
<path d="M441.75 270.43 442.49 269.43 443.58 265.67 443.93 267.15 444.67 269.29 445.75 272.25 446.12 270.43 446.84 270.65 447.93 271.05 448.74 272.61 449.02 272.16 450.11 272.43 451.2 273.71 451.36 273.71 452.29 272.99 453.38 271.52 454.2 269.34 454.46 270.03 455.55 272.42 456.39 273.71 456.64 272.73 457.73 274.76 458.58 276.98 458.82 278.05 459.91 273.26 460.76 272.61 461 272.63 462.08 271.65 462.95 273.71 463.17 271.33 464.26 271.51 465.13 271.52 465.35 273.98 466.44 271.81 467.32 273.71 467.53 276.08 468.62 274.06 469.5 278.08 469.71 278.71 470.79 277.54 471.69 276.98 471.88 274.59 472.97 280.49 473.87 279.17 474.06 278.8 475.15 279.19 476.06 276.98 476.24 277.81 477.33 279.81 478.24 280.26 478.41 278.86 479.5 278 480.43 275.89 480.59 275.12 481.68 273.63 482.61 273.71 482.77 275.67 483.86 270.18 484.8 271.08 484.95 271.59 486.04 275.89 486.98 275.89 487.12 276.7 488.21 275.18 489.17 276.98 489.3 275.75 490.39 280.2 491.35 281.35 491.48 281.38 492.57 283.91 493.1 285.73 493.66 281.02 494.63 276.98 494.74 276.9 495.83 274.31 496.82 274.8 496.92 275.8 498.01 275.02 499 273.71 499.1 272.7 500.19 273.17 501.19 274.8 501.28 274.89 502.37 276.18 503.37 279.17 503.45 279.03 504.54 282.36 505.12 285.73 505.63 285.09 506.65 289 506.72 288.05 507.81 286.09 508.18 286.82 508.9 288.54 509.93 290.1 509.99 290.75 511.07 294.27 512.12 292.28 512.16 291.62 513.25 293.22 514.3 294.47 514.34 293.49 515.43 294.03 516.49 289 516.52 289.52 517.61 290.17 518.67 290.1 518.7 292.44 519.78 290.94 520.86 294.47 520.87 292.66 521.96 296.59 523.04 295.56 523.05 294.81 524.14 294.16 525.23 297.74 525.23 299.24 526.32 295.71 527.4 294.35 527.41 296.65 528.49 292.34 529.58 295.09 529.6 293.37 530.67 295.74 531.76 295.1 531.78 295.56 532.85 297.1 533.53 301.02 533.94 301.13 535.03 296.55 535.06 295.56 536.11 295.34 537.2 290.69 537.25 292.28 538.29 294.45 539.38 294.55 539.43 295.56 540.47 292.45 541.56 289.57 541.62 291.19 542.65 290.98 543.73 291.63 543.8 292.28 544.82 292.08 545.91 294.64 545.99 295.56 547 300.02 547.52 299.93 548.09 300.86 549.18 299.58 549.27 301.02 550.27 300.18 551.36 300.3 551.45 299.93 552.44 299.94 553.53 296.3 553.64 301.02 554.62 300.44 555.71 299.17 555.82 299.93 556.8 299.64 557.89 301.18 558.01 301.02 558.98 298.27 560.06 297.64 560.19 298.84 561.15 299.1 562.24 302.57 562.38 301.02 563.33 297.24 564.42 295.74 564.56 296.65 565.51 298.97 566.6 305.25 566.75 302.12 567.69 303.44 568.77 306.65 568.93 305.39 569.86 305.09 570.95 304.92 571.12 304.3 572.04 303.89 573.13 299.75 573.3 301.02 574.22 302.08 575.31 302.18 575.49 304.3 576.39 304.1 577.48 301.42 577.67 301.02 578.57 299.9 579.66 302.41 579.86 303.21 580.75 302.27 581.84 300.31 582.05 298.84 582.93 299.93 584.02 299.78 584.23 299.93 585.1 298.4 586.19 298.6 586.42 298.84 587.28 298.09 588.37 298.51 588.6 299.93 589.46 298.76 590.55 296.07 590.79 297.74 591.64 297.86 592.72 300.75 592.97 301.02 593.81 303.2 594.72 305.39 594.9 304.36 595.99 299.9 596.25 297.74 597.08 298.59 598.17 295.62 598.44 295.56 599.26 296.11 600.35 294.61 600.62 295.56 601.43 297.04 602.52 297.17 602.81 297.74 603.61 296.92 604.7 297.29 604.99 296.65 605.79 296.24 606.56 296.65 606.88 297.91 607.97 298.92 608.74 299.49 609.05 298 610.14 297.69 610.93 297.74 611.23 297.29 612.32 297.27 613.11 295.56 613.41 293.34 614.5 287.49 614.86 289 615.59 292.19 616.68 288.33 617.05 290.1 617.76 290.37 618.85 290.25 619.23 292.28 619.94 290.18 621.03 292.62 621.42 291.19 622.12 289.37 623.21 293.64 623.6 293.37 624.3 291.58 625.13 289 625.38 288.51 626.47 291.66 627.32 293.37 627.56 292.49 628.65 291.93 629.5 290.1 629.74 291.13 630.83 288.6 631.69 287.91 631.92 288.8 633.01 283.3 633.87 283.54 634.09 284.01 635.18 287.09 635.4 290.1 636.27 293.83 637.15 294.47 637.36 296.51 638.45 293.38 638.9 289 639.54 288.74 640.63 288.89 641.08 286.82 641.71 285.55 642.8 286.95 643.27 284.63 643.89 285.45 644.98 281.54 645.45 281.35 646.07 283.29 647.16 284.54 647.64 286.82 648.25 284.66 649.34 283.65 649.83 283.54 650.42 284.16 651.51 282.05 652.01 280.26 652.6 277.62 653.69 282.11 654.2 282.45 654.78 281.32 655.87 280.46 656.38 280.26 656.96 279.87 658.04 279.52 658.57 279.17 659.13 279.23 660.22 278.08 660.75 276.98 661.31 277.91 662.4 269.62 662.94 270.43 663.49 268.78 664.58 267.16 665.12 263.87 665.67 264.19 666.65 267.15 666.75 265.95 667.84 267.28 668.18 264.97 668.93 266.94 669.93 268.24 670.02 266.36 671.11 271.29 671.24 272.61 672.2 267.11 672.55 266.06 673.29 262.26 674.3 260.59 674.37 260.57 675.46 259.89 676.55 256.4 676.92 258.41 677.64 258.24 678.73 257.68 679.76 257.32 679.82 256.41 680.91 259.41 681.95 261.69 682 263.25 683.08 259.53 684.13 262.78 684.17 262.63 685.26 256.97 685.66 258.41 686.35 256.89 687.44 257.73 687.85 256.22 688.53 251.43 689.6 249.67 689.62 249.84 690.7 255.54 691.35 257.32 691.79 257.66 692.88 261.63 693.53 259.5 693.97 259.47 695.06 262.64 695.72 262.78 696.15 261.9 697.24 260.05 697.9 257.32 698.33 256.25 699.41 256.69 700.5 255.7 700.52 257.32 701.59 254.37 702.68 255.71 702.71 256.22 703.77 253.04 704.46 251.42 704.86 251.94 705.95 256.4 706.64 257.32 707.03 257.72 708.12 255.41 708.83 256.22 709.21 258.4 710.3 263.14 711.01 262.78 711.39 264.19 712.48 266.47 712.54 267.15 713.57 260.62 714.07 260.59 714.66 263.61 715.74 267.99 715.82 267.15 716.83 264.35 717.57 262.78 717.92 262.32 719.01 260.14 719.76 259.5 720 263.26 720.1 263.99 721.19 264.92 722.28 267.89 723.26 268.95 723.36 267.44 724.45 268.04 725.54 267.27 725.7 268.14 726.63 270.47 727.72 274 728.14 273.02 728.81 272.42 729.9 271.79 730.58 271.4 730.99 271.38 732.07 275.92 733.02 281.16 733.16 281.21 734.25 282.32 735.34 284.69 736.28 284.42 736.43 284.64 737.52 286.47 738.61 289.5 739.53 290.93 739.69 292.91 740.78 294.05 741.87 301.4 742.79 303.95 742.96 302.68 744.05 310.4 745.14 316.98 746.05 325.11 746.23 327.58 747.32 334.29 748.4 345.73 748.49 344.65 749.49 358.41 750.58 374.5 750.93 377.21 751.67 376.1 752.76 372.88 753.37 370.7 753.85 366.41 754.94 359.71 756.02 355.15 756.63 351.16 757.11 348.02 758.2 341.28 759.29 333.93 759.88 328.37 760.38 327.22 761.47 317.56 762 313.72 762.56 307.77 763.63 299.07 763.65 299.72 764.73 282.95 765.25 276.28 765.82 272.98 766.91 263.71 767.21 260 768 243.73 768.1 241" fill="none" stroke="#000" stroke-width="2.0" stroke-linejoin="round" shape-rendering="crispEdges"/>
</g>
<path d="M442 446V612.8" fill="none" stroke="#858585" stroke-width="1.7"/>
<path d="M441.8 612.2H769" fill="none" stroke="#4a4a4a" stroke-width="1.3"/>
<path d="M442 612.2v-4M496.42 612.2v-4M550.83 612.2v-4M605.25 612.2v-4M659.67 612.2v-4M714.08 612.2v-4M768.5 612.2v-4M442 595.58h4M442 562.34h4M442 529.1h4M442 495.86h4M442 462.62h4" stroke="#2b2b2b" stroke-width="1"/>
<g font-size="12.3"><text x="442" y="625.4" text-anchor="middle">0</text><text x="496.42" y="625.4" text-anchor="middle">50</text><text x="550.83" y="625.4" text-anchor="middle">100</text><text x="605.25" y="625.4" text-anchor="middle">150</text><text x="659.67" y="625.4" text-anchor="middle">200</text><text x="714.08" y="625.4" text-anchor="middle">250</text><text x="768.5" y="625.4" text-anchor="middle">300</text><text x="437.9" y="599.98" text-anchor="end">500</text><text x="437.9" y="566.74" text-anchor="end">600</text><text x="437.9" y="533.5" text-anchor="end">700</text><text x="437.9" y="500.26" text-anchor="end">800</text><text x="437.9" y="467.02" text-anchor="end">900</text></g>
<text x="603.25" y="641.4" text-anchor="middle" font-weight="bold" font-size="14">Pixel index</text>
<text transform="translate(410.4,529.1) rotate(-90)" text-anchor="middle" font-weight="bold" font-size="13.6">Photon count</text>
<text x="598" y="468.7" text-anchor="middle" font-weight="bold" font-size="23">(c)</text>
<clipPath id="cRC"><rect x="442" y="446" width="326.5" height="166.2"/></clipPath>
<g clip-path="url(#cRC)">
<path d="M442.19 491.07 448.74 492.6 457.48 493.69 466.22 493.69 472.78 494.78 479.34 495.87 483.71 496.96 490.26 495.87 494.63 495.87 501.19 494.78 503.37 496.96 505.56 502.42 508.84 505.69 513.21 508.97 516.49 510.72 520.86 512.24 524.13 515.52 527.41 517.26 531.78 517.7 536.15 517.7 540.52 516.61 544.46 515.52 547.08 518.79 550.36 520.97 555.82 521.63 562.38 520.97 568.93 521.63 573.3 522.5 579.86 522.07 583.14 520.97 586.42 518.79 590.79 518.79 595.16 519.45 599.53 518.14 608.74 517.7 612.02 515.52 615.3 513.33 621.85 512.9 628.41 510.72 634.97 507.88 641.52 505.69 645.89 504.6 651.35 503.51 656.82 500.24 661.19 497.62 665.56 493.69 669.93 488.89 674.3 482.78 677.58 478.41 683.04 478.41 691.78 478.41 700.52 478.41 709.27 477.97 713.64 479.5 720.19 483.43 726.75 486.71 731.12 491.51 734.83 501.39 738.78 506.34 741.74 515.23 744.71 529.07 747.67 548.83 749.65 568.6 751.63 598.25 753.6 590.34 756.57 576.51 759.53 560.69 762.5 535 764.48 521.16 766.45 495.46 768.43 459.88" fill="none" stroke="#5454d8" stroke-width="1.2"/>
<path d="M441.75 491.52 443.09 488.02 444.18 487.04 444.37 488.24 445.26 491.64 446.35 494.12 446.56 491.52 447.44 492.12 448.53 491.37 448.74 492.61 449.62 493.27 450.71 495.78 450.93 493.71 451.8 493.36 452.88 489.11 453.55 490.43 453.97 492.71 455.06 489.62 455.73 491.52 456.15 491.57 457.24 493.81 457.92 495.89 458.32 494.34 459.41 495.22 460.1 493.71 460.5 494.08 461.59 491.75 462.29 494.8 462.68 494.99 463.77 493.95 464.48 492.61 464.86 494.9 465.94 494.05 466.66 493.71 467.03 493.16 468.12 494.03 468.85 496.98 469.21 495.65 470.3 494.59 471.03 494.8 471.38 494.1 472.47 495.01 473.22 495.89 473.56 494.21 474.65 495.38 475.4 494.8 475.74 493.7 476.83 497.03 477.59 498.08 477.92 499.95 479 497.85 479.77 494.8 480.09 495.24 481.18 496.17 481.96 495.89 482.27 497.53 483.36 496.32 484.14 494.8 484.44 494.37 485.53 493.5 486.33 493.71 486.62 492.58 487.71 495.67 488.51 494.8 488.8 494.94 489.89 496.69 490.7 500.26 490.98 499.87 492.06 498.32 492.88 501.35 493.15 501.38 494.24 497.97 494.63 496.98 495.33 496.37 496.42 496.68 496.82 495.89 497.5 495.62 498.59 494.65 499 494.8 499.68 494.5 500.77 494.65 501.19 493.71 501.86 495.7 502.95 497.33 503.37 498.08 504.03 502.4 505.12 503.54 505.12 503.26 506.21 506.78 507.3 507.16 507.31 506.82 508.39 507.87 509.48 505.58 509.49 505.73 510.56 508.42 511.65 510.42 511.68 510.1 512.74 512.24 513.83 512.07 513.86 512.28 514.92 508.88 516.01 512.79 516.05 510.1 517.1 508.81 518.18 508.69 518.23 509 519.27 511.64 520.36 515.12 520.42 513.37 521.45 511.57 522.54 514.15 522.6 514.47 523.62 514.01 524.71 517.12 524.79 516.65 525.8 517.26 526.89 514.01 526.98 515.56 527.98 515.48 529.07 518.09 529.16 517.74 530.15 516.57 531.24 513.71 531.35 514.47 532.33 516.12 533.42 516.72 533.53 515.56 534.51 517.08 535.6 517.18 535.72 518.84 536.68 516.12 537.77 515.47 537.9 515.56 538.86 513.1 539.95 514.75 540.09 514.47 541.04 515.66 542.13 512.05 542.27 515.56 543.22 515.33 544.3 512.64 544.46 513.37 545.39 513.95 546.48 516.22 546.64 516.65 547.57 518.29 548.17 519.93 548.66 518.9 549.75 519.11 550.36 519.93 550.83 521.01 551.92 520.69 552.54 521.02 553.01 518.75 554.1 519.17 554.73 519.93 555.19 520.78 556.27 520.6 556.91 521.02 557.36 522.14 558.45 521.81 559.1 519.49 559.54 520.42 560.63 517.75 561.28 520.37 561.72 521.17 562.81 522.93 563.47 519.93 563.89 519.87 564.98 520.16 565.66 518.84 566.07 518.16 567.16 518.52 567.84 521.02 568.25 521.9 569.34 522.33 570.03 523.21 570.42 524.61 571.51 521.88 572.21 523.86 572.6 524.6 573.69 522.62 574.4 522.12 574.78 518.82 575.87 524.19 576.58 523.21 576.95 522.76 578.04 522.53 578.77 522.12 579.13 521.06 580.22 519.96 580.95 519.93 581.31 517.92 582.39 519.92 583.14 521.02 583.48 519.78 584.57 521.36 585.32 518.84 585.66 518.4 586.75 521.47 587.51 519.93 587.84 518.07 588.92 519.71 589.69 519.49 590.01 518.28 591.1 521.18 591.88 521.02 592.19 520.98 593.28 522.28 594.06 523.21 594.37 521.52 595.46 519.37 595.59 518.84 596.54 518.72 597.63 517.32 597.78 516.65 598.72 517.57 599.81 517.97 600.62 516.65 600.9 518.53 601.99 519.44 602.81 517.74 603.07 514.87 604.16 518.28 605.25 518.4 605.65 516.65 606.34 516.35 606.56 518.18 607.43 517.13 608.51 516.98 608.74 516.65 609.6 515.84 610.69 515.87 610.93 518.84 611.78 518.77 612.87 513.84 613.11 515.56 613.96 512.59 615.04 509.01 615.3 510.1 616.13 511.68 617.22 509.56 617.48 512.28 618.31 509.74 619.4 514.12 619.67 510.1 620.49 509.45 621.58 510.98 621.85 513.37 622.66 514.56 623.75 510.97 624.04 511.19 624.84 512.63 625.93 513.68 626.22 514.47 627.02 513.71 628.11 508.8 628.41 509 629.19 509.08 630.28 511.94 630.59 512.28 631.37 510.81 632.46 511.04 632.78 507.91 633.55 506.33 634.63 507.89 634.97 505.73 635.72 507.57 636.81 511.49 637.15 511.19 637.9 506.24 638.99 508.41 639.34 507.91 640.08 504.91 641.16 506.11 641.52 505.73 642.25 505.4 643.34 503.72 643.71 504.63 644.43 503.93 645.52 499.4 645.89 502.45 646.61 503.4 647.69 501.86 648.08 504.63 648.78 505.64 649.87 504.14 650.26 502.45 650.96 500.78 652.05 502.65 652.45 500.26 653.14 498.06 654.23 501.24 654.63 502.45 655.31 501.28 656.4 497.18 656.82 499.17 657.49 500.24 658.58 501.12 659 500.26 659.67 503.04 660.75 500.44 661.19 496.98 661.84 496.1 662.93 496.51 663.37 492.61 664.02 490.68 665.11 488.99 665.12 490.43 666.2 487.45 666.65 487.15 667.28 489.05 668.18 486.06 668.37 487.65 669.46 490.45 669.93 489.34 670.55 489.31 671.24 491.52 671.64 488.01 672.55 484.97 672.73 484.62 673.82 480.11 674.3 478.41 674.9 477.76 675.99 476.46 676.49 477.32 677.08 478.91 678.17 479.54 678.67 478.41 679.26 476.94 680.35 476.8 680.86 477.32 681.43 477.17 682.52 478.88 683.04 479.5 683.61 478.07 684.7 477.96 685.23 478.41 685.79 478.72 686.88 474.23 687.41 476.22 687.96 474.06 689.05 474.92 689.6 474.04 690.14 474.98 691.23 477.52 691.78 477.32 692.32 479.08 693.4 478.03 693.97 476.22 694.49 479.1 695.58 479.59 696.15 479.5 696.67 478.49 697.76 477.97 698.34 477.32 698.85 479.41 699.93 477.59 700.52 477.32 701.02 477.98 702.11 478.12 702.71 476.22 703.2 473.6 704.29 474.59 704.9 471.85 705.38 471.71 706.46 478.25 707.08 477.32 707.55 476.42 708.64 476.77 709.27 475.13 709.73 474.86 710.82 478.4 711.01 479.5 711.91 481.91 712.54 481.69 713 480.28 714.08 478.25 714.73 479.5 715.17 478.19 716.26 479.61 716.91 482.78 717.35 483.5 718.44 480.34 719.1 483.87 719.52 482.72 720 479.65 720.61 480.75 721.7 484.45 721.98 482.62 722.79 484.95 723.88 489.49 723.95 487.56 724.97 487.71 726.06 490.83 726.92 488.55 727.14 486 728.23 488.64 729.32 488.57 729.88 491.51 730.41 490.28 731.5 492.86 731.86 493.49 732.59 494.69 733.67 498 734.76 503.98 734.83 501.39 735.85 504.39 736.94 504.59 738.03 503.98 738.78 506.34 739.12 509.36 740.2 510.3 741.29 514.7 741.74 515.23 742.38 517.08 743.47 522.13 744.56 529.88 744.71 529.07 745.64 536.97 746.73 540.36 747.67 548.83 747.82 548.72 748.91 561.21 749.65 568.6 750 572.55 751.09 590.03 751.63 598.25 752.17 595.32 753.26 592.25 753.6 590.34 754.35 586.01 755.44 579.26 756.53 574.5 756.57 576.51 757.62 569 758.7 564.89 759.53 560.69 759.79 556.98 760.88 549.61 761.97 539.99 762.5 535 763.06 530.83 764.15 525.05 764.48 521.16 765.24 510.96 766.32 499.66 766.45 495.46 767.41 475.72 768.43 459.88" fill="none" stroke="#000" stroke-width="1.9" stroke-linejoin="round" shape-rendering="crispEdges"/>
</g>
<path d="M442 664.7V831.7" fill="none" stroke="#858585" stroke-width="1.7"/>
<path d="M441.8 831.1H769" fill="none" stroke="#4a4a4a" stroke-width="1.3"/>
<path d="M442 831.1v-4M496.42 831.1v-4M550.83 831.1v-4M605.25 831.1v-4M659.67 831.1v-4M714.08 831.1v-4M768.5 831.1v-4M442 814.46h4M442 781.18h4M442 747.9h4M442 714.62h4M442 681.34h4" stroke="#2b2b2b" stroke-width="1"/>
<g font-size="12.3"><text x="442" y="844.3" text-anchor="middle">0</text><text x="496.42" y="844.3" text-anchor="middle">50</text><text x="550.83" y="844.3" text-anchor="middle">100</text><text x="605.25" y="844.3" text-anchor="middle">150</text><text x="659.67" y="844.3" text-anchor="middle">200</text><text x="714.08" y="844.3" text-anchor="middle">250</text><text x="768.5" y="844.3" text-anchor="middle">300</text><text x="437.9" y="818.86" text-anchor="end">500</text><text x="437.9" y="785.58" text-anchor="end">600</text><text x="437.9" y="752.3" text-anchor="end">700</text><text x="437.9" y="719.02" text-anchor="end">800</text><text x="437.9" y="685.74" text-anchor="end">900</text></g>
<text x="603.25" y="860.3" text-anchor="middle" font-weight="bold" font-size="14">Pixel index</text>
<text transform="translate(410.4,747.9) rotate(-90)" text-anchor="middle" font-weight="bold" font-size="13.6">Photon count</text>
<text x="597.4" y="698.1" text-anchor="middle" font-weight="bold" font-size="23">(d)</text>
<clipPath id="cRD"><rect x="442" y="664.7" width="326.5" height="166.4"/></clipPath>
<g clip-path="url(#cRD)">
<path d="M442.19 709.83 448.74 711.35 457.48 712.45 466.22 712.45 472.78 713.54 479.34 714.63 483.71 715.73 490.26 714.63 494.63 714.63 501.19 713.54 503.37 715.73 505.56 721.19 508.84 724.47 513.21 727.74 516.49 729.49 520.86 731.02 524.13 734.3 527.41 736.05 531.78 736.49 536.15 736.49 540.52 735.39 544.46 734.3 547.08 737.58 550.36 739.76 555.82 740.42 562.38 739.76 568.93 740.42 573.3 741.29 579.86 740.86 583.14 739.76 586.42 737.58 590.79 737.58 595.16 738.23 599.53 736.92 608.74 736.49 612.02 734.3 615.3 732.12 621.85 731.68 628.41 729.49 634.97 726.65 641.52 724.47 645.89 723.37 651.35 722.28 656.82 719 661.19 716.38 665.56 712.45 669.93 707.64 674.3 701.52 677.58 697.15 683.04 697.15 691.78 697.15 700.52 697.15 709.27 696.71 713.64 698.24 720.19 702.18 726.75 705.45 731.12 710.26 735.49 719 739.86 727.74 742.4 740 744.3 749.3 746.6 760.5 748 770.7 749 781.9 749.9 794 750.8 807 751.7 816.3 753.6 810.7 755.5 799.5 757.3 788.4 759.2 775.3 760.6 766 761.9 755 763.2 742 764.3 730 765.3 717 766.4 703 767.3 690.5 768.2 677" fill="none" stroke="#5454d8" stroke-width="1.2"/>
<path d="M442.19 709.83 443.09 710.28 444.18 710 445.26 710.86 446.35 710.62 447.44 711.46 448.53 711.04 448.74 711.35 449.62 711.49 450.71 711.13 451.8 711.45 452.88 711.85 453.97 712.1 455.06 711.99 456.15 712.29 457.24 712.7 457.48 712.45 458.32 712.24 459.41 713.25 460.5 712.46 461.59 711.74 462.68 712.27 463.77 712.91 464.86 712.09 465.94 712.38 466.22 712.45 467.03 712.78 468.12 712.96 469.21 712.9 470.3 712.84 471.38 713.34 472.47 712.9 472.78 713.54 473.56 713.87 474.65 713.57 475.74 714.54 476.83 714.85 477.92 714.42 479 714.48 479.34 714.63 480.09 714.2 481.18 715.2 482.27 715.26 483.36 716.03 483.71 715.73 484.44 715.58 485.53 715.23 486.62 715.36 487.71 714.71 488.8 714.4 489.89 714.49 490.26 714.63 490.98 714.64 492.06 714.69 493.15 714.42 494.24 714.96 494.63 714.63 495.33 714.19 496.42 714.52 497.5 714.05 498.59 714.32 499.68 714.09 500.77 713.87 501.19 713.54 501.86 714.03 502.95 715.27 503.37 715.73 504.03 717.34 505.12 719.76 505.56 721.19 506.21 722.12 507.3 722.63 508.39 724.2 508.84 724.47 509.48 725.23 510.56 725.93 511.65 726.22 512.74 726.84 513.21 727.74 513.83 728.25 514.92 729 516.01 729.75 516.49 729.49 517.1 729.68 518.18 729.94 519.27 730.33 520.36 730.76 520.86 731.02 521.45 731.15 522.54 732.68 523.62 733.65 524.13 734.3 524.71 734.69 525.8 735.5 526.89 736.5 527.41 736.05 527.98 736.09 529.07 736.41 530.15 736.49 531.24 736.63 531.78 736.49 532.33 736.46 533.42 736.44 534.51 737.22 535.6 736.6 536.15 736.49 536.68 736.2 537.77 735.97 538.86 735.88 539.95 735.48 540.52 735.39 541.04 735.78 542.13 734.83 543.22 734.74 544.3 734.32 544.46 734.3 545.39 735.25 546.48 736.79 547.08 737.58 547.57 738.28 548.66 739.29 549.75 739.51 550.36 739.76 550.83 739.82 551.92 739.88 553.01 739.74 554.1 740.08 555.19 740.24 555.82 740.42 556.27 740.96 557.36 740.01 558.45 740.1 559.54 739.36 560.63 739.69 561.72 740.08 562.38 739.76 562.81 739.77 563.89 739.71 564.98 740.33 566.07 740.67 567.16 740.1 568.25 740.53 568.93 740.42 569.34 740.56 570.42 740.69 571.51 741.03 572.6 740.89 573.3 741.29 573.69 741.17 574.78 741.1 575.87 740.84 576.95 741.06 578.04 741.39 579.13 740.9 579.86 740.86 580.22 741.17 581.31 740.3 582.39 740.4 583.14 739.76 583.48 739.54 584.57 738.39 585.66 737.86 586.42 737.58 586.75 737.84 587.84 738.04 588.92 737.72 590.01 737.24 590.79 737.58 591.1 737.44 592.19 738.29 593.28 737.67 594.37 738.02 595.16 738.23 595.46 737.9 596.54 737.36 597.63 737.76 598.72 736.97 599.53 736.92 599.81 736.85 600.9 736.5 601.99 736.9 603.07 737.22 604.16 736.64 605.25 736.32 606.34 736.68 607.43 736.63 608.51 736.44 608.74 736.49 609.6 735.95 610.69 735.32 611.78 734.59 612.02 734.3 612.87 733.24 613.96 733.15 615.04 732.22 615.3 732.12 616.13 731.67 617.22 731.62 618.31 732.45 619.4 732.09 620.49 732.17 621.58 731.73 621.85 731.68 622.66 732.15 623.75 731.5 624.84 730.72 625.93 730.2 627.02 730.34 628.11 729.51 628.41 729.49 629.19 728.72 630.28 728.99 631.37 727.78 632.46 727.75 633.55 727.99 634.63 726.74 634.97 726.65 635.72 726.35 636.81 725.55 637.9 725.9 638.99 724.7 640.08 724.96 641.16 724.4 641.52 724.47 642.25 724.34 643.34 723.83 644.43 723.32 645.52 723.46 645.89 723.37 646.61 723.4 647.69 722.79 648.78 722.87 649.87 722.48 650.96 722.02 651.35 722.28 652.05 721.81 653.14 721.08 654.23 720.48 655.31 719.87 656.4 718.96 656.82 719 657.49 718.19 658.58 717.84 659.67 717.86 660.75 717.12 661.19 716.38 661.84 715.52 662.93 714.31 664.02 713.39 665.11 713 665.56 712.45 666.2 711.66 667.28 710.71 668.37 709.21 669.46 708.17 669.93 707.64 670.55 707.09 671.64 705.03 672.73 703.7 673.82 701.48 674.3 701.52 674.9 700.32 675.99 699.76 677.08 697.51 677.58 697.15 678.17 697.44 679.26 697.34 680.35 697.2 681.43 697.57 682.52 696.12 683.04 697.15 683.61 696.86 684.7 697.43 685.79 696.76 686.88 697.89 687.96 696.73 689.05 697.09 690.14 697.05 691.23 696.83 691.78 697.15 692.32 697.06 693.4 696.94 694.49 697.45 695.58 696.98 696.67 697.23 697.76 696.95 698.85 697.19 699.93 696.99 700.52 697.15 701.02 697.27 702.11 697.47 703.2 697.24 704.29 696.62 705.38 696.97 706.46 696.79 707.55 696.89 708.64 696.42 709.27 696.71 709.73 697.11 710.82 698.11 711.91 697.84 713 698.2 713.64 698.24 714.08 698.09 715.17 699.41 716.26 699.96 717.35 700.26 718.44 700.84 719.52 701.87 720.19 702.18 720.61 701.94 721.7 703.05 722.79 703.4 723.88 704.3 724.97 705.27 726.06 705.32 726.75 705.45 727.14 706.08 728.23 707.36 729.32 707.49 730.41 709.98 731.12 710.26 731.5 710.83 732.59 712.65 733.67 715.1 734.76 717.34 735.49 719 735.85 719.88 736.94 722.07 738.03 723.63 739.12 725.7 739.86 727.74 740.2 729.57 741.29 734.49 742.38 739.88 742.4 740 743.47 744.97 744.3 749.3 744.56 750.77 745.64 755.5 746.6 760.5 746.73 761.58 747.82 769.28 748 770.7 748.91 781.09 749 781.9 749.9 794 750 795.05 750.8 807 751.09 810.05 751.7 816.3 752.17 814.68 753.26 811.69 753.6 810.7 754.35 805.97 755.44 799.68 755.5 799.5 756.53 792.3 757.3 788.4 757.62 786.45 758.7 778.41 759.2 775.3 759.79 771.51 760.6 766 760.88 763.55 761.9 755 761.97 754.84 763.06 742.99 763.2 742 764.15 732.44 764.3 730 765.24 717.56 765.3 717 766.32 704.47 766.4 703 767.3 690.5 767.41 688.91 768.2 677" fill="none" stroke="#000" stroke-width="1.9" stroke-linejoin="round" shape-rendering="crispEdges"/>
</g>
</svg></body></html>
